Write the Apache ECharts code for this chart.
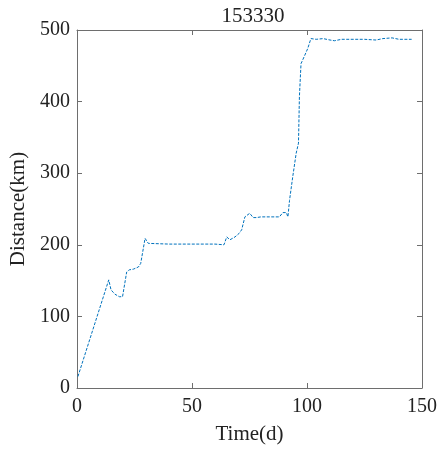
<!DOCTYPE html>
<html>
<head>
<meta charset="utf-8">
<script src="https://cdn.jsdelivr.net/npm/echarts@6/dist/echarts.min.js"></script>
<style>
html,body{margin:0;padding:0;background:#fff;}
#c{width:441px;height:452px;}
</style>
</head>
<body>
<div id="c"></div>
<script>
var titleText = '153330';
var xName = 'Time(d)';
var yName = 'Distance(km)';
var timeDays = [0.4, 13.8, 14.8, 16.5, 18.4, 19.8, 21.6, 22.7, 24.5, 26.7, 27.7, 29.6, 31, 40, 50, 60, 63.9, 65.1, 66.5, 68.7, 70.5, 71.6, 73, 75.1, 76.6, 78, 80, 84, 88, 89.5, 91, 91.7, 92.4, 93.8, 95.3, 96.3, 96.7, 97.4, 98.8, 100.3, 101.7, 104, 107, 110, 112, 115, 120, 125, 130, 133, 137, 140, 145.5];
var distanceKm = [16, 151, 137, 131, 127.5, 127.5, 162, 165, 166, 169, 174, 209, 202, 201, 201, 201, 200, 211, 207, 211, 216, 221, 239, 244, 238, 238, 239, 239, 239, 245, 245, 239, 262, 295, 328, 342, 407, 453, 463, 474, 488, 487, 488, 486, 485, 487, 487, 487, 486, 488, 489, 487, 487];
var xTicks = {min: 0, max: 150, interval: 50};
var yTicks = {min: 0, max: 500, interval: 100};

var pts = timeDays.map(function (t, i) { return [t, distanceKm[i]]; });
var FONT = '"Liberation Serif", "Times New Roman", serif';
var axisCol = '#6e6e6e';
var txtCol = '#222';

function axisBase(extra) {
  var a = {
    type: 'value',
    axisLine: {show: true, onZero: false, lineStyle: {color: axisCol, width: 1}},
    axisTick: {show: true, inside: true, length: 5, lineStyle: {color: axisCol}},
    splitLine: {show: false},
    axisLabel: {show: false}
  };
  for (var k in extra) a[k] = extra[k];
  return a;
}

var chart = echarts.init(document.getElementById('c'), null, {renderer: 'canvas'});
chart.setOption({
  animation: false,
  backgroundColor: '#fff',
  title: {
    text: titleText, left: 248, top: 1, textAlign: 'center',
    textStyle: {fontFamily: FONT, fontSize: 21, fontWeight: 'normal', color: txtCol}
  },
  grid: {left: 74, right: 19, top: 30, bottom: 64, show: false},
  xAxis: [
    axisBase({min: xTicks.min, max: xTicks.max, interval: xTicks.interval, position: 'bottom',
      name: xName, nameLocation: 'middle', nameGap: 36,
      nameTextStyle: {fontFamily: FONT, fontSize: 21, color: txtCol},
      axisLabel: {show: true, margin: 9, fontFamily: FONT, fontSize: 20, color: txtCol}}),
    axisBase({min: xTicks.min, max: xTicks.max, interval: xTicks.interval, position: 'top'})
  ],
  yAxis: [
    axisBase({min: yTicks.min, max: yTicks.max, interval: yTicks.interval, position: 'left',
      name: yName, nameLocation: 'middle', nameGap: 48,
      nameTextStyle: {fontFamily: FONT, fontSize: 21, color: txtCol},
      axisLabel: {show: true, margin: 7, fontFamily: FONT, fontSize: 20, color: txtCol}}),
    axisBase({min: yTicks.min, max: yTicks.max, interval: yTicks.interval, position: 'right'})
  ],
  series: [{
    type: 'line',
    xAxisIndex: 0, yAxisIndex: 0,
    data: pts,
    showSymbol: false,
    lineStyle: {color: '#0072BD', width: 1, type: [3, 1.5]}
  }]
});
</script>
</body>
</html>
